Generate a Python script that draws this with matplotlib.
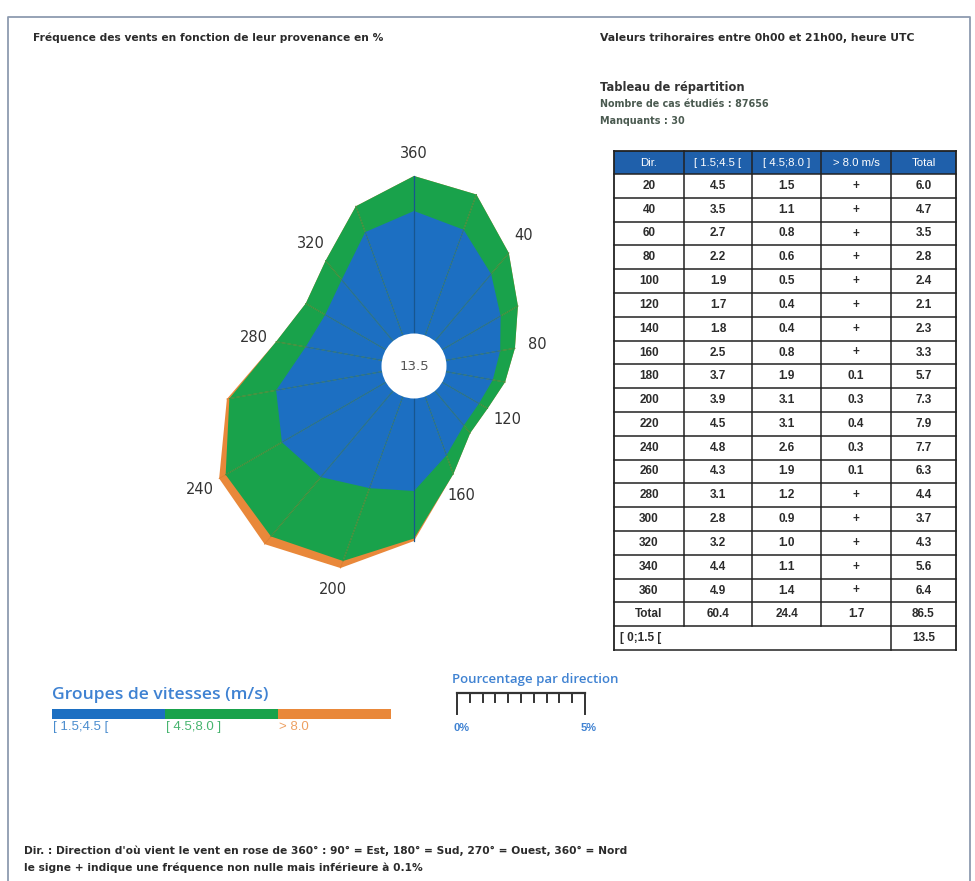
import numpy as np
import matplotlib
matplotlib.use('Agg')
import matplotlib.pyplot as plt
from matplotlib.patches import Rectangle, Circle

# repartition of winds by direction (in %), three speed groups
directions = [20, 40, 60, 80, 100, 120, 140, 160, 180,
              200, 220, 240, 260, 280, 300, 320, 340, 360]
low_speed = [4.5, 3.5, 2.7, 2.2, 1.9, 1.7, 1.8, 2.5, 3.7,
             3.9, 4.5, 4.8, 4.3, 3.1, 2.8, 3.2, 4.4, 4.9]
mid_speed = [1.5, 1.1, 0.8, 0.6, 0.5, 0.4, 0.4, 0.8, 1.9,
             3.1, 3.1, 2.6, 1.9, 1.2, 0.9, 1.0, 1.1, 1.4]
# None = non null but under 0.1 % (shown as "+")
high_speed = [None, None, None, None, None, None, None, None, 0.1,
              0.3, 0.4, 0.3, 0.1, None, None, None, None, None]
totals = [6.0, 4.7, 3.5, 2.8, 2.4, 2.1, 2.3, 3.3, 5.7,
          7.3, 7.9, 7.7, 6.3, 4.4, 3.7, 4.3, 5.6, 6.4]
group_totals = [60.4, 24.4, 1.7, 86.5]
calm = 13.5
n_cases = 87656
n_missing = 30

headers = ['Dir.', '[ 1.5;4.5 [', '[ 4.5;8.0 ]', '> 8.0 m/s', 'Total']
group_labels = ['[ 1.5;4.5 [', '[ 4.5;8.0 ]', '> 8.0']
label_dirs = [40, 80, 120, 160, 200, 240, 280, 320, 360]

BLUE = '#1c6fc2'
GREEN = '#19a24b'
ORANGE = '#e9883a'
TXT = '#2b2b2b'
LEG_BLUE = '#3f82d2'

fig = plt.figure(figsize=(9.75, 8.81), dpi=100)
fig.patch.set_facecolor('white')

# overlay axes in pixel units for the page layout
ov = fig.add_axes([0, 0, 1, 1])
ov.set_xlim(0, 975)
ov.set_ylim(881, 0)
ov.axis('off')

# frame
ov.plot([8, 8, 970, 970], [881, 17, 17, 881], color='#8d9bb0', lw=1.3)

font = 'Liberation Sans'
wide = 'DejaVu Sans'
ov.text(33, 38, 'Fréquence des vents en fonction de leur provenance en %',
        fontsize=7.65, family=wide, color=TXT, va='center', weight='bold')
ov.text(600, 38, 'Valeurs trihoraires entre 0h00 et 21h00, heure UTC',
        fontsize=7.8, family=wide, color=TXT, va='center', weight='bold')
ov.text(600, 88, 'Tableau de répartition', fontsize=8.3, family=wide,
        color='#333333', va='center', weight='bold')
ov.text(600, 104, f'Nombre de cas étudiés : {n_cases}', fontsize=6.9,
        family=wide, color='#4a5a50', va='center', weight='bold')
ov.text(600, 121, f'Manquants : {n_missing}', fontsize=6.9, family=wide,
        color='#4a5a50', va='center', weight='bold')

# ---- table ----
col_x = [614, 684, 752, 821, 891, 956]
top, head_h, row_h = 151, 23, 23.8
n_rows = len(directions) + 2
bottom = top + head_h + n_rows * row_h
ov.add_patch(Rectangle((col_x[0], top), col_x[-1] - col_x[0], head_h,
                       facecolor='#1f60ab', edgecolor='none'))
for j, h in enumerate(headers):
    ov.text((col_x[j] + col_x[j + 1]) / 2, top + head_h / 2 + 1, h,
            color='white', fontsize=8.2, family=font, ha='center', va='center')


def fmt(v):
    return '+' if v is None else f'{v:.1f}'


rows = []
for i, d in enumerate(directions):
    rows.append([str(d), fmt(low_speed[i]), fmt(mid_speed[i]),
                 fmt(high_speed[i]), fmt(totals[i])])
rows.append(['Total'] + [f'{v:.1f}' for v in group_totals])
for i, r in enumerate(rows):
    yc = top + head_h + (i + 0.5) * row_h
    for j, s in enumerate(r):
        ov.text((col_x[j] + col_x[j + 1]) / 2, yc, s, color=TXT,
                fontsize=8.5, family=font, ha='center', va='center',
                weight='bold')
yc = top + head_h + (n_rows - 0.5) * row_h
ov.text(col_x[0] + 6, yc, '[ 0;1.5 [', color=TXT, fontsize=8.5,
        family=font, va='center', weight='bold')
ov.text((col_x[4] + col_x[5]) / 2, yc, f'{calm:.1f}', color=TXT,
        fontsize=8.5, family=font, ha='center', va='center', weight='bold')

lc = '#222222'
for k in range(n_rows + 1):
    y = top + head_h + k * row_h
    ov.plot([col_x[0], col_x[-1]], [y, y], color=lc, lw=1.1)
ov.plot([col_x[0], col_x[-1]], [top, top], color=lc, lw=1.3)
for j, x in enumerate(col_x):
    y_end = bottom if j in (0, 4, 5) else bottom - row_h
    ov.plot([x, x], [top, y_end], color=lc, lw=1.3 if j in (0, 5) else 1.1)

# ---- legend ----
ov.text(52, 695, 'Groupes de vitesses (m/s)', fontsize=12.6,
        family='Open Sans', color=LEG_BLUE, va='center', weight='semibold')
bar_x = [52, 165, 278, 391]
for c, x0, x1, lab in zip([BLUE, GREEN, ORANGE], bar_x[:-1], bar_x[1:],
                          group_labels):
    ov.add_patch(Rectangle((x0, 709), x1 - x0, 10, facecolor=c,
                           edgecolor='none'))
    ov.text(x0 + 1, 727, lab, fontsize=9.5, family=font, color=c,
            va='center', alpha=0.8)

ov.text(452, 680, 'Pourcentage par direction', fontsize=9.5,
        family='Open Sans', color=LEG_BLUE, va='center', weight='semibold')
sx0, sx1, sy = 457, 585, 693
ov.plot([sx0, sx1], [sy, sy], color='#333333', lw=1.6)
for t in np.arange(0, 5.01, 0.5):
    x = sx0 + (sx1 - sx0) * t / 5
    end = sy + 21 if t in (0, 5) else sy + 9
    ov.plot([x, x], [sy, end], color='#333333', lw=1.4)
ov.text(sx0 - 4, 728, '0%', fontsize=8, family=font, color=LEG_BLUE,
        va='center', weight='bold')
ov.text(sx1 - 4, 728, '5%', fontsize=8, family=font, color=LEG_BLUE,
        va='center', weight='bold')

ov.text(24, 851, "Dir. : Direction d'où vient le vent en rose de 360° : "
        "90° = Est, 180° = Sud, 270° = Ouest, 360° = Nord",
        fontsize=7.7, family=wide, color=TXT, va='center', weight='bold')
ov.text(24, 868, 'le signe + indique une fréquence non nulle mais '
        'inférieure à 0.1%', fontsize=7.7, family=wide, color=TXT,
        va='center', weight='bold')

# ---- wind rose ----
K = 25.0       # pixels per percent
cx, cy = 414, 366
bx0, bx1, by0, by1 = 150, 600, 130, 610
ax = fig.add_axes([bx0 / 975, (881 - by1) / 881,
                   (bx1 - bx0) / 975, (by1 - by0) / 881])
ax.set_xlim(-(cx - bx0) / K, (bx1 - cx) / K)
ax.set_ylim(-(by1 - cy) / K, (cy - by0) / K)
ax.axis('off')
ax.patch.set_alpha(0)

hole = 1.3
theta = np.radians(directions)
v1 = np.array(low_speed)
v2 = np.array(mid_speed)
v3 = np.array([0.0 if v is None else v for v in high_speed])
layers = [(hole + v1 + v2 + v3, ORANGE, '#dc8035'),
          (hole + v1 + v2, GREEN, '#179745'),
          (hole + v1, BLUE, '#1966b5')]
for r, fc, ec in layers:
    xs = r * np.sin(theta)
    ys = r * np.cos(theta)
    ax.fill(xs, ys, color=fc, lw=0)
    for x, y in zip(xs, ys):
        ax.plot([0, x], [0, y], color=ec, lw=0.6)
# vertical north-south spoke is more visible
r_n = hole + v1[-1] + v2[-1]
r_s = hole + v1[8] + v2[8] + v3[8]
ax.plot([0, 0], [-r_s, r_n], color='#17568f', lw=0.9)

ax.add_patch(Circle((0, 0), hole, facecolor='white', edgecolor='none',
                    zorder=5))
ax.text(0, 0, f'{calm:.1f}', fontsize=9.5, color='#555555', ha='center',
        va='center', zorder=6)

for d in label_dirs:
    i = directions.index(d)
    r = hole + v1[i] + v2[i] + v3[i] + 0.9
    a = np.radians(d)
    ax.text(r * np.sin(a), r * np.cos(a), str(d), fontsize=10.5,
            color='#333333', ha='center', va='center')

fig.savefig('out.png', dpi=100)
